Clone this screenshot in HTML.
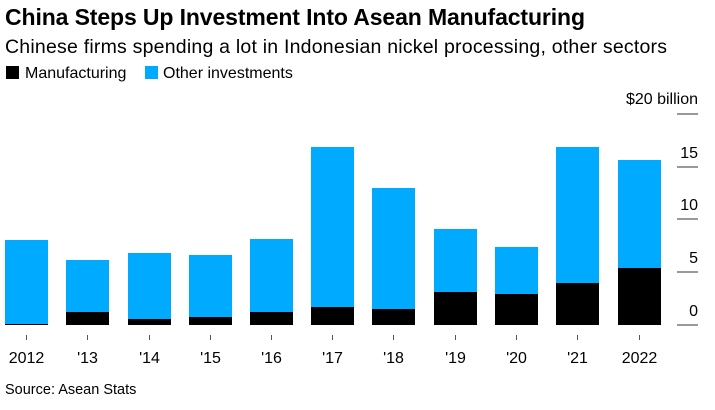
<!DOCTYPE html>
<html><head><meta charset="utf-8"><style>
body{margin:0;width:715px;height:405px;background:#fff;font-family:"Liberation Sans",sans-serif;overflow:hidden}
</style></head><body>
<svg width="715" height="405" xmlns="http://www.w3.org/2000/svg" font-family="Liberation Sans, sans-serif">
<text x="5" y="25" font-size="23" font-weight="bold" fill="#000" textLength="580">China Steps Up Investment Into Asean Manufacturing</text>
<text x="5" y="53" font-size="19.5" fill="#000" textLength="662">Chinese firms spending a lot in Indonesian nickel processing, other sectors</text>
<rect x="6" y="66" width="13" height="13" fill="#000"/>
<text x="25" y="78" font-size="16">Manufacturing</text>
<rect x="145" y="66" width="13" height="13" fill="#00aaff"/>
<text x="163" y="78" font-size="16">Other investments</text>
<g stroke="#333" stroke-width="1">
<line x1="677" x2="698" y1="114" y2="114"/><line x1="677" x2="698" y1="167" y2="167"/>
<line x1="677" x2="698" y1="219" y2="219"/><line x1="677" x2="698" y1="272" y2="272"/>
<line x1="677" x2="698" y1="325" y2="325"/>
</g>
<g font-size="16" text-anchor="end" fill="#000">
<text x="698" y="104">$20 billion</text><text x="698" y="158">15</text><text x="698" y="210">10</text><text x="698" y="263">5</text><text x="698" y="316">0</text>
</g>
<g fill="#00aaff">
<rect x="5" y="240" width="43" height="84"/>
<rect x="66" y="260" width="43" height="52"/>
<rect x="128" y="253" width="43" height="66"/>
<rect x="189" y="255" width="43" height="62"/>
<rect x="250" y="239" width="43" height="73"/>
<rect x="311" y="147" width="43" height="160"/>
<rect x="372" y="188" width="43" height="121"/>
<rect x="434" y="229" width="43" height="63"/>
<rect x="495" y="247" width="43" height="47"/>
<rect x="556" y="147" width="43" height="136"/>
<rect x="618" y="160" width="43" height="108"/>
</g>
<g fill="#000">
<rect x="5" y="324" width="43" height="1"/>
<rect x="66" y="312" width="43" height="13"/>
<rect x="128" y="319" width="43" height="6"/>
<rect x="189" y="317" width="43" height="8"/>
<rect x="250" y="312" width="43" height="13"/>
<rect x="311" y="307" width="43" height="18"/>
<rect x="372" y="309" width="43" height="16"/>
<rect x="434" y="292" width="43" height="33"/>
<rect x="495" y="294" width="43" height="31"/>
<rect x="556" y="283" width="43" height="42"/>
<rect x="618" y="268" width="43" height="57"/>
</g>
<g stroke="#555" stroke-width="1">
<line x1="26.5" x2="26.5" y1="335" y2="340"/><line x1="87.5" x2="87.5" y1="335" y2="340"/>
<line x1="149.5" x2="149.5" y1="335" y2="340"/><line x1="210.5" x2="210.5" y1="335" y2="340"/>
<line x1="271.5" x2="271.5" y1="335" y2="340"/><line x1="332.5" x2="332.5" y1="335" y2="340"/>
<line x1="393.5" x2="393.5" y1="335" y2="340"/><line x1="455.5" x2="455.5" y1="335" y2="340"/>
<line x1="516.5" x2="516.5" y1="335" y2="340"/><line x1="577.5" x2="577.5" y1="335" y2="340"/>
<line x1="639.5" x2="639.5" y1="335" y2="340"/>
</g>
<g font-size="16" text-anchor="middle" fill="#000">
<text x="26.5" y="363">2012</text><text x="87.5" y="363">'13</text><text x="149.5" y="363">'14</text>
<text x="210.5" y="363">'15</text><text x="271.5" y="363">'16</text><text x="332.5" y="363">'17</text>
<text x="393.5" y="363">'18</text><text x="455.5" y="363">'19</text><text x="516.5" y="363">'20</text>
<text x="577.5" y="363">'21</text><text x="639.5" y="363">2022</text>
</g>
<text x="5" y="394" font-size="14.5">Source: Asean Stats</text>
</svg>
</body></html>
